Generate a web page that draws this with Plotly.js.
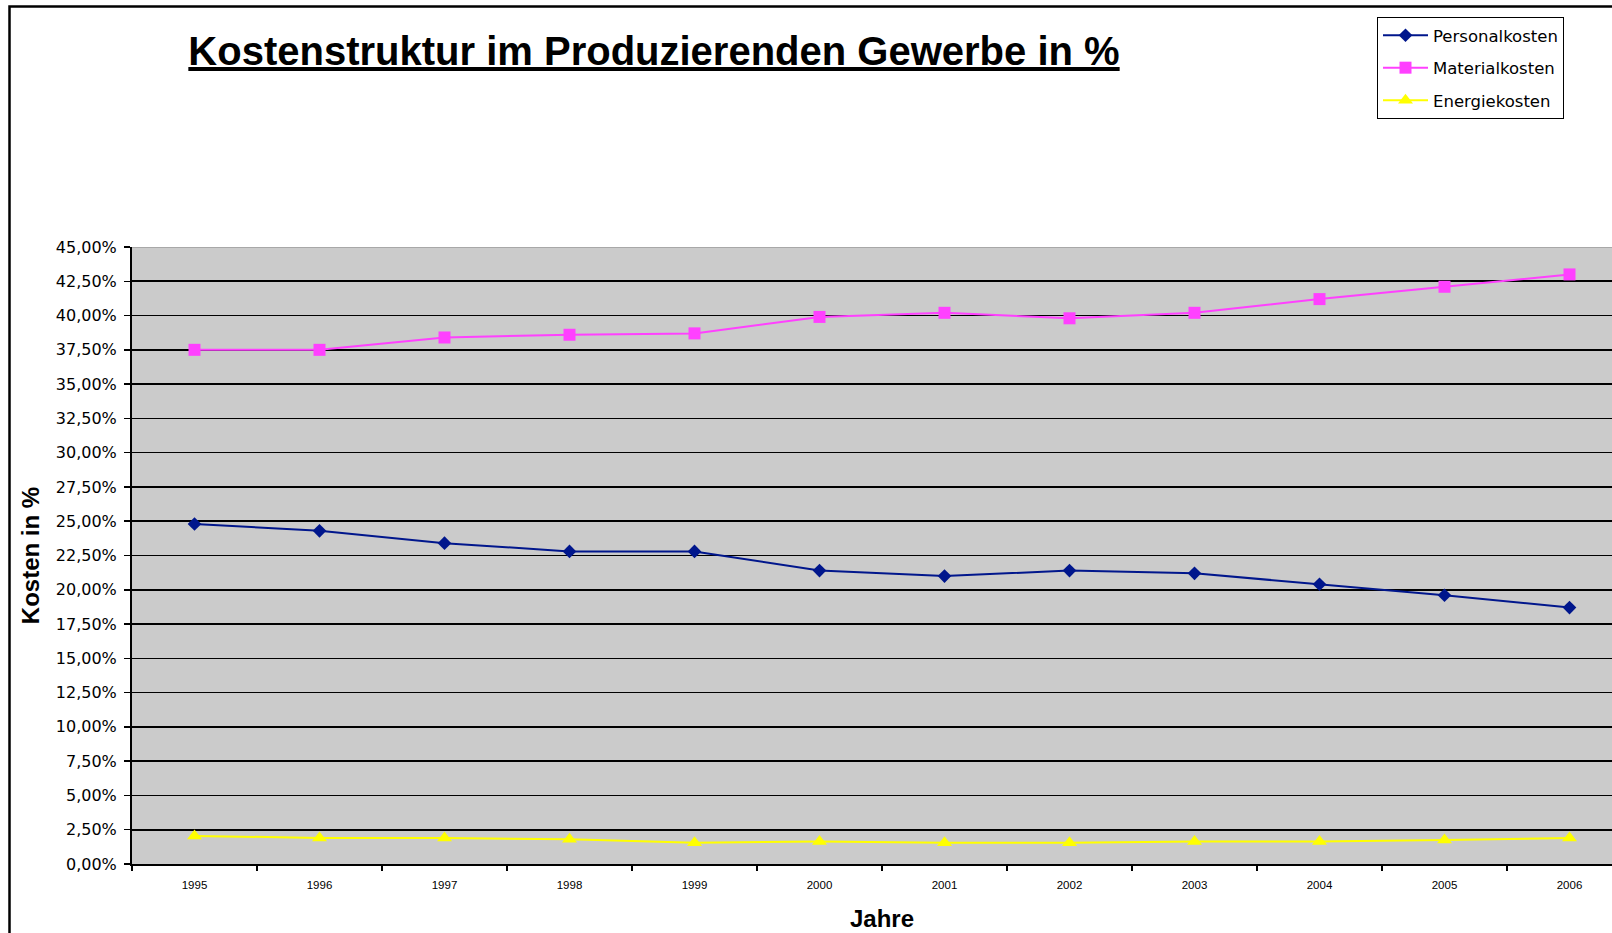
<!DOCTYPE html>
<html>
<head>
<meta charset="utf-8">
<script src="https://cdn.plot.ly/plotly-3.0.1.min.js"></script>
<style>
  html, body { margin: 0; padding: 0; background: #ffffff; overflow: hidden; }
  #chart { width: 1640px; height: 933px; }
</style>
</head>
<body>
<div id="chart"></div>
<script>
// ---- data ----
const years = ['1995','1996','1997','1998','1999','2000','2001','2002','2003','2004','2005','2006'];
const personalkosten = [0.248, 0.243, 0.234, 0.228, 0.228, 0.214, 0.210, 0.214, 0.212, 0.204, 0.196, 0.187];
const materialkosten = [0.375, 0.375, 0.384, 0.386, 0.387, 0.399, 0.402, 0.398, 0.402, 0.412, 0.421, 0.430];
const energiekosten  = [0.0205, 0.019, 0.019, 0.018, 0.0155, 0.0165, 0.0155, 0.0155, 0.0165, 0.0165, 0.0175, 0.019];
const seriesNames = ['Personalkosten', 'Materialkosten', 'Energiekosten'];
const chartTitle = 'Kostenstruktur im Produzierenden Gewerbe in %';
const xTitle = 'Jahre';
const yTitle = 'Kosten in %';

const traces = [
  {
    x: years, y: personalkosten, name: seriesNames[0], type: 'scatter', mode: 'lines+markers',
    legendgroup: 'a',
    line: { color: '#00168c', width: 2 },
    marker: { symbol: 'diamond', size: 10.5, color: '#00168c' }
  },
  {
    x: years, y: materialkosten, name: seriesNames[1], type: 'scatter', mode: 'lines+markers',
    legendgroup: 'b',
    line: { color: '#ff40ff', width: 2 },
    marker: { symbol: 'square', size: 12, color: '#ff40ff' }
  },
  {
    x: years, y: energiekosten, name: seriesNames[2], type: 'scatter', mode: 'lines+markers',
    legendgroup: 'c',
    line: { color: '#ffff00', width: 2 },
    marker: { symbol: 'triangle-up', size: 13, color: '#ffff00' }
  }
];

const layout = {
  width: 1640,
  height: 933,
  margin: { l: 132, r: 8, t: 247, b: 69 },
  paper_bgcolor: '#ffffff',
  plot_bgcolor: '#cbcbcb',
  separators: ',.',
  font: { family: 'DejaVu Sans', color: '#000000' },
  showlegend: true,
  title: {
    text: chartTitle,
    font: { family: 'Liberation Sans', size: 40, weight: 'bold', color: '#000000', lineposition: 'under' },
    xref: 'container', x: 654 / 1640, xanchor: 'center',
    yref: 'container', y: 1 - 51 / 933, yanchor: 'middle'
  },
  xaxis: {
    type: 'category',
    range: [-0.5, 11.5],
    showgrid: false,
    zeroline: false,
    showline: true, linecolor: '#000000', linewidth: 2,
    ticks: 'outside', tickson: 'boundaries', ticklen: 5, tickwidth: 1.5, tickcolor: '#000000',
    tickfont: { family: 'Liberation Sans', size: 11.5, color: '#000000' },
    ticklabelstandoff: 9,
    title: { text: xTitle, font: { family: 'Liberation Sans', size: 24, weight: 'bold', color: '#000000' }, standoff: 20 },
    fixedrange: true
  },
  yaxis: {
    range: [0, 0.45],
    dtick: 0.025,
    tick0: 0,
    tickformat: '.2%',
    showgrid: true, gridcolor: '#000000', gridwidth: 1.6,
    zeroline: false,
    showline: true, linecolor: '#000000', linewidth: 2,
    ticks: 'outside', ticklen: 6, tickwidth: 1.5, tickcolor: '#000000',
    tickfont: { family: 'DejaVu Sans', size: 16, color: '#000000' },
    ticklabelstandoff: 4,
    title: { text: yTitle, font: { family: 'Liberation Sans', size: 24, weight: 'bold', color: '#000000' }, standoff: 9 },
    fixedrange: true
  },
  legend: {
    x: (1377 - 132) / 1500, xanchor: 'left',
    y: 1 + (247 - 17) / 617, yanchor: 'top',
    bgcolor: '#ffffff', bordercolor: '#000000', borderwidth: 1,
    font: { family: 'DejaVu Sans', size: 16.5, color: '#000000' },
    tracegroupgap: 8,
    itemwidth: 45
  },
  shapes: [
    {
      type: 'rect', xref: 'paper', yref: 'paper', layer: 'below',
      x0: (9.5 - 132) / 1500, x1: 1.2,
      y0: -0.3, y1: 1 + (247 - 6.5) / 617,
      line: { color: '#000000', width: 2.5 }, fillcolor: 'rgba(0,0,0,0)'
    },
    {
      type: 'line', xref: 'paper', yref: 'y', layer: 'above',
      x0: 0, x1: 1, y0: 0.45, y1: 0.45,
      line: { color: '#a8a8a8', width: 2 }
    }
  ]
};

Plotly.newPlot('chart', traces, layout, { displayModeBar: false, staticPlot: true });
</script>
</body>
</html>
